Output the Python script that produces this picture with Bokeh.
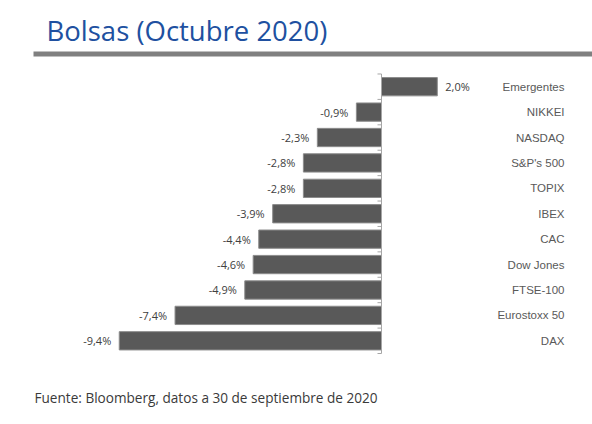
from bokeh.plotting import figure
from bokeh.models import Range1d, Label, BoxAnnotation, ColumnDataSource
from bokeh.core.properties import value
from bokeh.embed import file_html
from bokeh.resources import INLINE

# Data (rentabilidad octubre 2020, %)
indices = ["Emergentes", "NIKKEI", "NASDAQ", "S&P's 500", "TOPIX", "IBEX",
           "CAC", "Dow Jones", "FTSE-100", "Eurostoxx 50", "DAX"]
returns = [2.0, -0.9, -2.3, -2.8, -2.8, -3.9, -4.4, -4.6, -4.9, -7.4, -9.4]

title_text = "Bolsas (Octubre 2020)"
source_text = "Fuente: Bloomberg, datos a 30 de septiembre de 2020"

W, H = 592, 416
px_per_pct = 27.9
zero_px = 381
row_px = 25.41
rows_top, rows_bottom = 73.5, 353

n = len(indices)
# row centres: first index on top
ypos = [n - 1 - i for i in range(n)]

p = figure(width=W, height=H, output_backend="svg", toolbar_location=None,
           x_range=Range1d(-zero_px / px_per_pct, (W - zero_px) / px_per_pct),
           y_range=Range1d(-0.5 - (H - rows_bottom) / row_px,
                           n - 0.5 + rows_top / row_px),
           x_axis_location=None, y_axis_location=None,
           min_border=0, outline_line_color=None)
p.grid.visible = False

labels = [f"{v:.1f}%".replace(".", ",") for v in returns]
src = ColumnDataSource(data=dict(
    y=ypos, v=returns, lab=labels,
    align=["left" if v >= 0 else "right" for v in returns],
    off=[8 if v >= 0 else -8 for v in returns],
))

# bars
p.hbar(y="y", left=0, right="v", height=0.72, source=src,
       fill_color="#595959", line_color="#8c8c8c", line_width=1)

# vertical axis at zero with ticks at category boundaries
tick_len = 4 / px_per_pct
bounds = [y + 0.5 for y in ypos] + [ypos[-1] - 0.5]
p.segment(x0=[0], x1=[0], y0=[max(bounds)], y1=[min(bounds)],
          line_color="#a6a6a6", line_width=1)
p.segment(x0=-tick_len, x1=0, y0=bounds, y1=bounds,
          line_color="#a6a6a6", line_width=1)

# value labels
p.text(x="v", y="y", text="lab", source=src, x_offset="off",
       text_align="align", text_baseline="middle",
       text_font=value("Open Sans"), text_font_size="11px", text_color="#404040")

# category names on the right
cat_x = (564 - zero_px) / px_per_pct
p.text(x=cat_x, y=ypos, text=indices, text_align="right", text_baseline="middle",
       text_font=value("Liberation Sans"), text_font_size="11.5px",
       text_color="#595959")

# title, underline and source
p.add_layout(Label(x=46, y=H - 30, x_units="screen", y_units="screen",
                   text=title_text, text_font="Open Sans", text_font_size="27.5px",
                   text_color="#2050a0", text_baseline="alphabetic"))
p.add_layout(BoxAnnotation(left=33, right=W, top=H - 51, bottom=H - 56,
                           left_units="screen", right_units="screen",
                           top_units="screen", bottom_units="screen",
                           fill_color="#808080", fill_alpha=1, line_color=None))
p.add_layout(Label(x=34, y=H - 397, x_units="screen", y_units="screen",
                   text=source_text, text_font="Open Sans", text_font_size="13.6px",
                   text_color="#3a3a3a", text_baseline="alphabetic"))

open("out.html", "w").write(file_html(p, INLINE))
